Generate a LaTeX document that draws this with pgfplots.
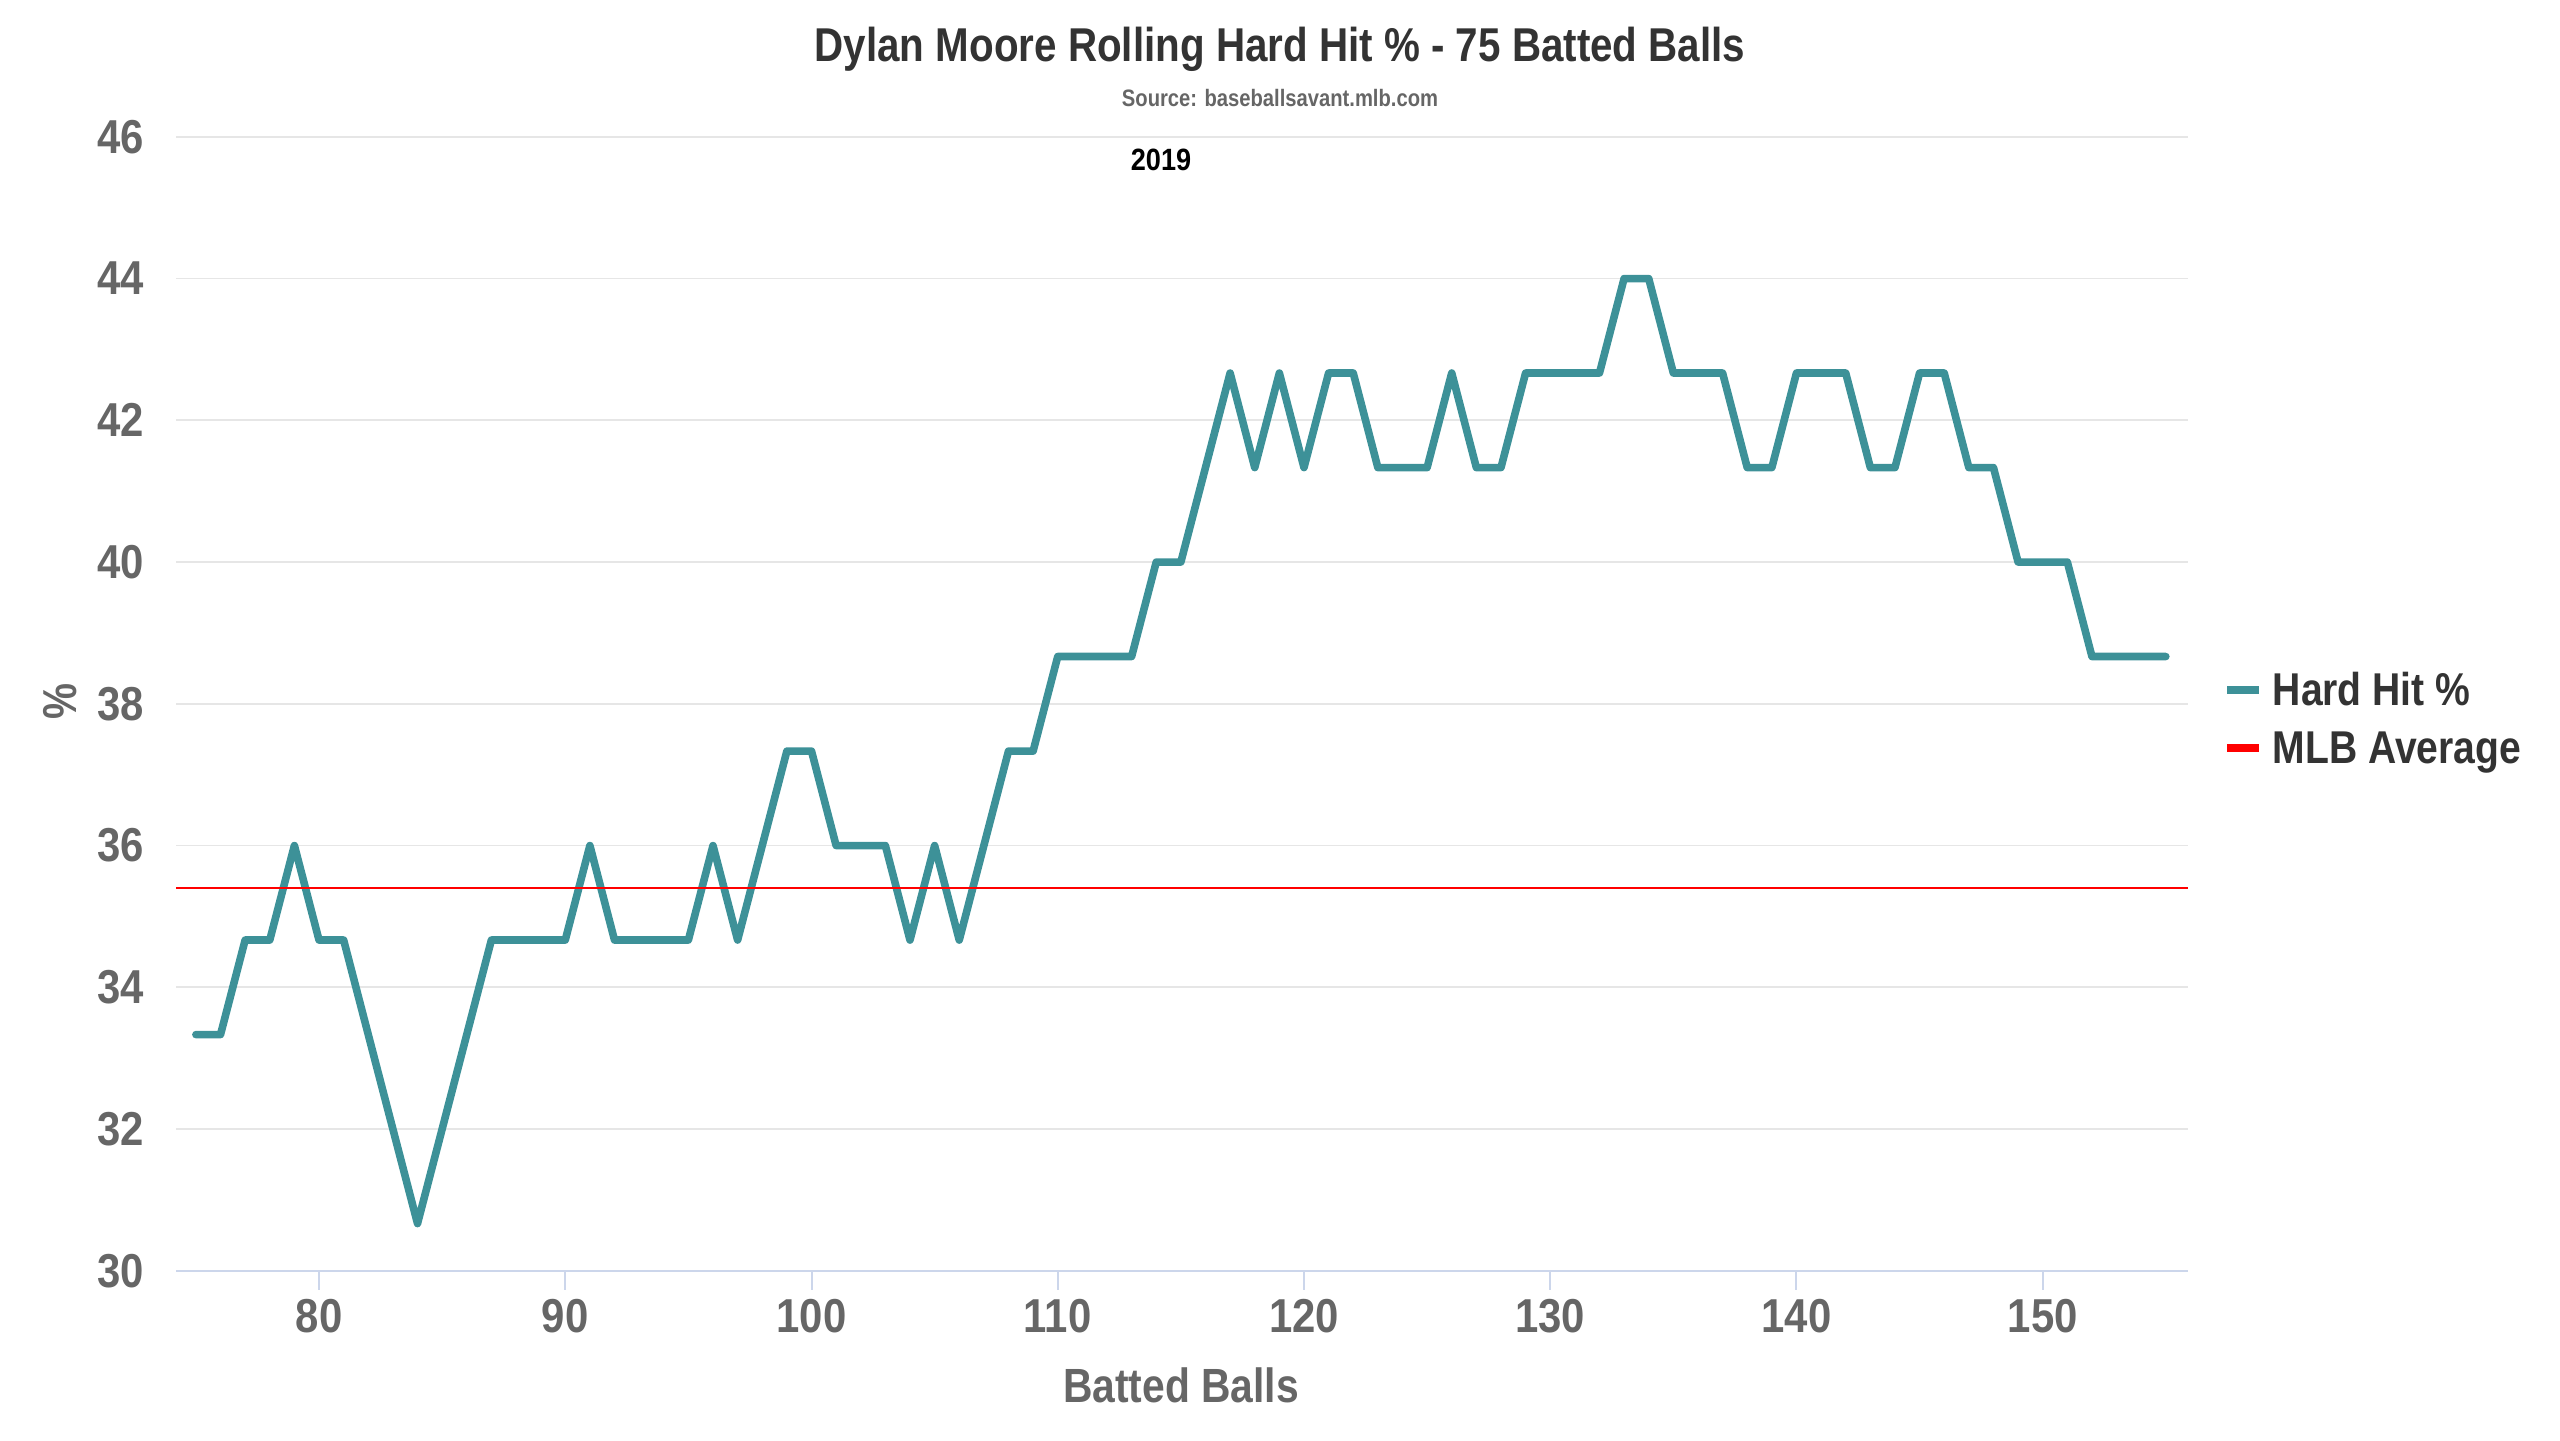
\documentclass[border=0pt]{standalone}
\usepackage{pgfplots}
\pgfplotsset{compat=1.18}
\usepackage{fontspec}
\newfontfamily\cf{Liberation Sans}[FakeStretch=0.85]
\newfontfamily\cfd{Liberation Sans}[FakeStretch=0.88]
\definecolor{teal1}{RGB}{61,145,152}
\definecolor{gridc}{RGB}{230,230,230}
\definecolor{axisc}{RGB}{204,214,235}
\definecolor{tickc}{RGB}{102,102,102}
\definecolor{txtc}{RGB}{51,51,51}
\definecolor{mlbred}{RGB}{255,0,0}
\begin{document}
\begin{tikzpicture}
\useasboundingbox (0,0) rectangle (640pt,360pt);
\begin{axis}[
  at={(44.05pt,42.3pt)}, anchor=south west,
  scale only axis, width=502.95pt, height=283.5pt,
  xmin=74.2, xmax=155.9, ymin=30, ymax=46,
  xtick={80,90,...,150}, ytick={30,32,...,46},
  axis lines*=left,
  x axis line style={-, draw=axisc, line width=0.6pt},
  y axis line style={draw=none},
  ymajorgrids, major grid style={draw=gridc, line width=0.45pt},
  major tick length=4.75pt,
  xtick style={draw=axisc, line width=0.5pt, yshift=-4.75pt},
  ytick style={draw=none},
  /pgf/number format/assume math mode=true,
  tick label style={font=\cfd\bfseries\fontsize{11.9}{12}\selectfont, text=tickc},
  xticklabel style={anchor=north, inner sep=0pt, yshift=-6.8pt},
  yticklabel style={anchor=east, inner sep=0pt, xshift=-7.9pt},
  legend style={at={(1.0175,0.5289)}, anchor=north west, draw=none, fill=none,
    inner sep=0pt, outer sep=0pt, row sep=4pt, column sep=2.4pt,
    nodes={inner sep=0pt, text height=8.5pt, text depth=2pt,
      font=\cf\bfseries\fontsize{11.5}{12}\selectfont, text=txtc}},
  legend cell align=left,
  legend image code/.code={\draw[#1, line width=2pt, line cap=butt] (0pt,0.6pt) -- (8pt,0.6pt);},
]
\addplot[teal1, line width=1.9pt, line join=round, line cap=round] coordinates {
(75,33.333) (76,33.333) (77,34.667) (78,34.667) (79,36) (80,34.667) (81,34.667)
(82,33.333) (83,32) (84,30.667) (85,32) (86,33.333) (87,34.667) (88,34.667)
(89,34.667) (90,34.667) (91,36) (92,34.667) (93,34.667) (94,34.667) (95,34.667)
(96,36) (97,34.667) (98,36) (99,37.333) (100,37.333) (101,36) (102,36) (103,36)
(104,34.667) (105,36) (106,34.667) (107,36) (108,37.333) (109,37.333)
(110,38.667) (111,38.667) (112,38.667) (113,38.667) (114,40) (115,40)
(116,41.333) (117,42.667) (118,41.333) (119,42.667) (120,41.333) (121,42.667)
(122,42.667) (123,41.333) (124,41.333) (125,41.333) (126,42.667) (127,41.333)
(128,41.333) (129,42.667) (130,42.667) (131,42.667) (132,42.667) (133,44)
(134,44) (135,42.667) (136,42.667) (137,42.667) (138,41.333) (139,41.333)
(140,42.667) (141,42.667) (142,42.667) (143,41.333) (144,41.333) (145,42.667)
(146,42.667) (147,41.333) (148,41.333) (149,40) (150,40) (151,40)
(152,38.667) (153,38.667) (154,38.667) (155,38.667)
};
\addlegendentry{Hard Hit \%}
\addplot[mlbred, line width=0.5pt] coordinates {(74.2,35.4) (155.9,35.4)};
\addlegendentry{MLB Average}
\end{axis}
\node[anchor=base, inner sep=0pt, font=\cf\bfseries\fontsize{11.87}{14}\selectfont, text=txtc] at (320pt,344.75pt) {Dylan Moore Rolling Hard Hit \% - 75 Batted Balls};
\node[anchor=base, inner sep=0pt, font=\cf\bfseries\fontsize{5.94}{7}\selectfont, text=tickc] at (320pt,333.5pt) {Source: baseballsavant.mlb.com};
\node[anchor=base, inner sep=0pt, font=\cfd\bfseries\fontsize{7.7}{9}\selectfont, text=black] at (290.25pt,317.5pt) {2019};
\node[anchor=base, inner sep=0pt, font=\cf\bfseries\fontsize{12}{14}\selectfont, text=tickc] at (295.25pt,9.5pt) {Batted Balls};
\node[anchor=base, inner sep=0pt, rotate=90, font=\cf\bfseries\fontsize{11.9}{14}\selectfont, text=tickc] at (19.25pt,184.5pt) {\%};
\end{tikzpicture}
\end{document}
